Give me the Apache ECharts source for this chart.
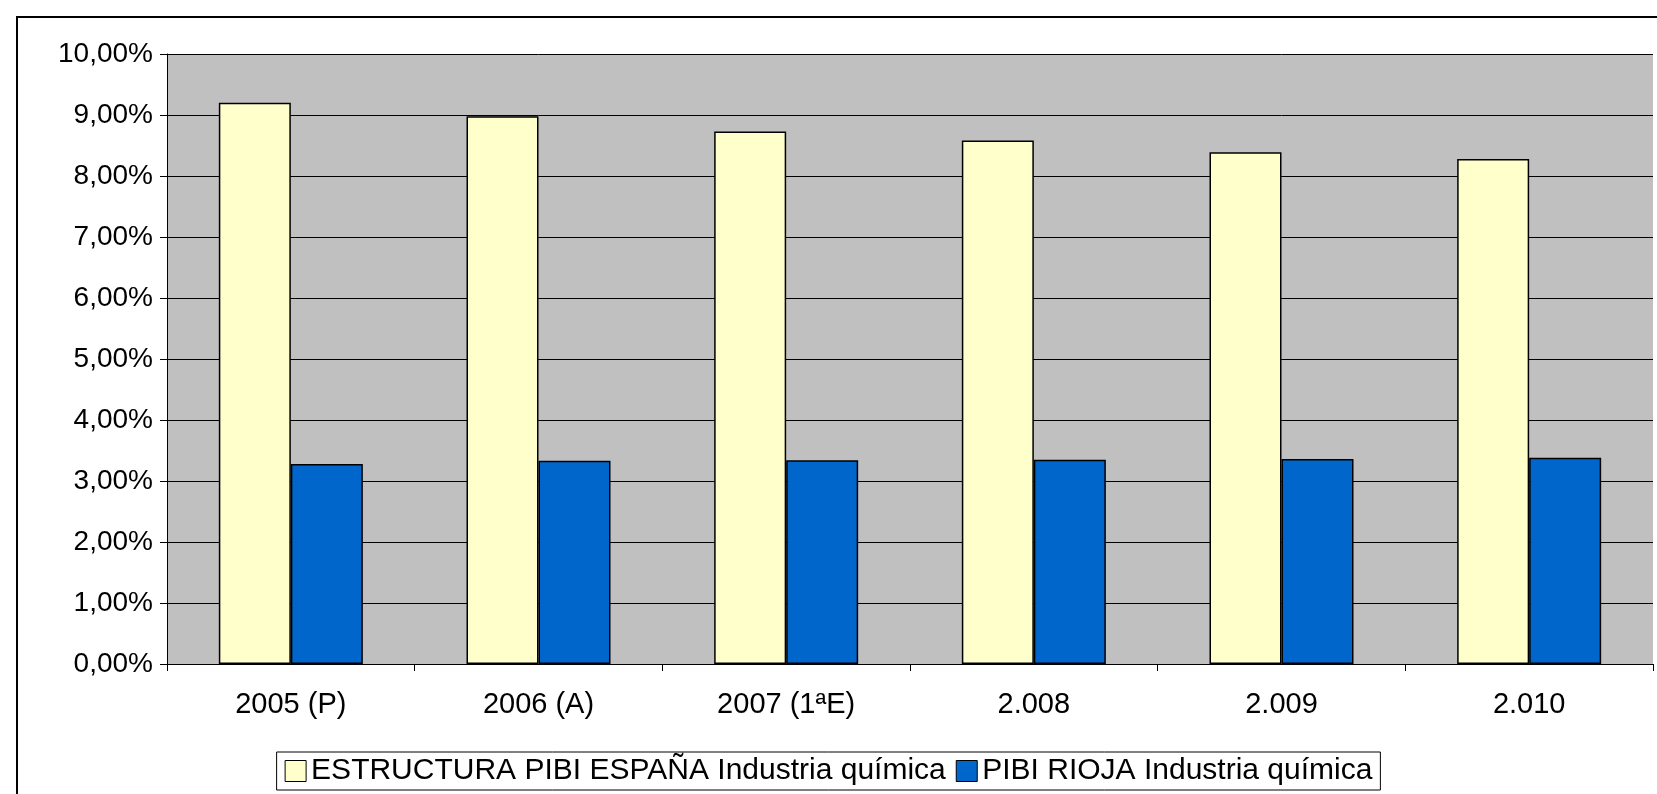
<!DOCTYPE html>
<html>
<head>
<meta charset="utf-8">
<script src="https://cdn.jsdelivr.net/npm/echarts@6/dist/echarts.min.js"></script>
<style>
  html, body { margin: 0; padding: 0; background: #fff; overflow: hidden; }
  #frame { position: absolute; left: 16px; top: 16px; width: 1660px; height: 800px; border: 2px solid #000; box-sizing: border-box; }
  #chart { position: absolute; left: 0; top: 0; width: 1657px; height: 794px; }
</style>
</head>
<body>
<div id="frame"></div>
<div id="chart"></div>
<script>
const categories = ['2005 (P)', '2006 (A)', '2007 (1ªE)', '2.008', '2.009', '2.010']
const espana = [9.20, 8.98, 8.73, 8.58, 8.39, 8.28]
const rioja = [3.28, 3.33, 3.34, 3.35, 3.36, 3.38]

const myChart = echarts.init(document.getElementById('chart'))

const fmt = v => v.toFixed(2).replace('.', ',') + '%'

myChart.setOption({
    animation: false,
    textStyle: { fontFamily: 'Liberation Sans, Arial, sans-serif' },
    grid: {
        left: 167,
        right: 4,
        top: 54,
        bottom: 130,
        backgroundColor: '#c0c0c0',
        show: true,
        borderWidth: 0
    },
    legend: {
        top: 752,
        left: 'center',
        icon: 'rect',
        itemWidth: 21,
        itemHeight: 21,
        itemGap: 10,
        padding: [4, 8],
        borderColor: '#000',
        borderWidth: 1,
        itemStyle: { borderColor: '#000', borderWidth: 1 },
        textStyle: { fontSize: 30, color: '#000', fontFamily: 'Liberation Sans, Arial, sans-serif' },
        data: ['ESTRUCTURA PIBI ESPAÑA Industria química', 'PIBI RIOJA Industria química']
    },
    xAxis: {
        type: 'category',
        data: categories,
        axisLine: { lineStyle: { color: '#000', width: 1 } },
        axisTick: { show: true, length: 7, lineStyle: { color: '#000' } },
        axisLabel: { fontSize: 29, color: '#000', margin: 26 }
    },
    yAxis: {
        type: 'value',
        min: 0,
        max: 10,
        interval: 1,
        axisLine: { show: true, lineStyle: { color: '#000' } },
        axisTick: { show: true, length: 7, lineStyle: { color: '#000' } },
        axisLabel: { fontSize: 28, color: '#000', formatter: fmt, margin: 14 },
        splitLine: { show: true, lineStyle: { color: '#000', width: 1 } }
    },
    series: [
        {
            name: 'ESTRUCTURA PIBI ESPAÑA Industria química',
            type: 'bar',
            data: espana,
            barWidth: 72,
            barGap: '0%',
            itemStyle: { color: '#ffffcc', borderColor: '#000', borderWidth: 1.5 }
        },
        {
            name: 'PIBI RIOJA Industria química',
            type: 'bar',
            data: rioja,
            barWidth: 72,
            barGap: '0%',
            itemStyle: { color: '#0066cc', borderColor: '#000', borderWidth: 1.5 }
        }
    ]
})
</script>
</body>
</html>
